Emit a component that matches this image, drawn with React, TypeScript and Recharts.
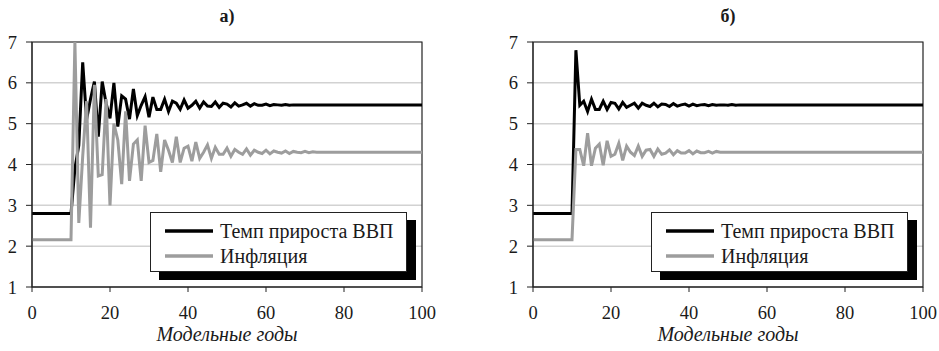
import React from 'react';
import { LineChart, Line, XAxis, YAxis, CartesianGrid, ReferenceArea } from 'recharts';

const years = Array.from({ length: 101 }, (_, i) => i);
const xTicks = [0, 20, 40, 60, 80, 100];
const yTicks = [1, 2, 3, 4, 5, 6, 7];
const seriesNames = ['Темп прироста ВВП', 'Инфляция'];
const panelTitles = ['а)', 'б)'];
const axisTitle = 'Модельные годы';

// panel a
const gdpA = [
  2.8, 2.8, 2.8, 2.8, 2.8, 2.8, 2.8, 2.8, 2.8, 2.8,
  2.8, 3.9, 4.47, 6.5, 5.1, 5.6, 6.03, 4.68, 6.03, 5.5,
  5.13, 6.0, 4.93, 5.68, 5.6, 5.11, 5.85, 5.2, 5.45, 5.66,
  5.16, 5.65, 5.35, 5.35, 5.6, 5.3, 5.55, 5.5, 5.35, 5.58,
  5.38, 5.45, 5.55, 5.38, 5.53, 5.43, 5.42, 5.53, 5.4, 5.5,
  5.48, 5.41, 5.51, 5.43, 5.46, 5.5, 5.43, 5.49, 5.45, 5.45,
  5.48, 5.44, 5.47, 5.46, 5.45, 5.47, 5.45, 5.46, 5.46, 5.46,
  5.46, 5.46, 5.46, 5.46, 5.46, 5.46, 5.46, 5.46, 5.46, 5.46,
  5.46, 5.46, 5.46, 5.46, 5.46, 5.46, 5.46, 5.46, 5.46, 5.46,
  5.46, 5.46, 5.46, 5.46, 5.46, 5.46, 5.46, 5.46, 5.46, 5.46,
  5.46,
];
const infA = [
  2.16, 2.16, 2.16, 2.16, 2.16, 2.16, 2.16, 2.16, 2.16, 2.16,
  2.16, 7.0, 2.57, 4.2, 5.55, 2.45, 5.95, 3.72, 3.75, 5.6,
  3.0, 5.0, 4.6, 3.52, 5.3, 3.6, 4.5, 4.6, 3.6, 4.95,
  4.05, 4.1, 4.75, 3.82, 4.6, 4.35, 4.05, 4.68, 4.05, 4.4,
  4.45, 4.08, 4.55, 4.15, 4.3, 4.48, 4.15, 4.42, 4.25, 4.25,
  4.4, 4.2, 4.37, 4.3, 4.25, 4.38, 4.23, 4.35, 4.3, 4.27,
  4.35, 4.26, 4.33, 4.3, 4.28, 4.33, 4.27, 4.32, 4.3, 4.29,
  4.32, 4.29, 4.31, 4.3, 4.3, 4.3, 4.3, 4.3, 4.3, 4.3,
  4.3, 4.3, 4.3, 4.3, 4.3, 4.3, 4.3, 4.3, 4.3, 4.3,
  4.3, 4.3, 4.3, 4.3, 4.3, 4.3, 4.3, 4.3, 4.3, 4.3,
  4.3,
];

// panel b
const gdpB = [
  2.8, 2.8, 2.8, 2.8, 2.8, 2.8, 2.8, 2.8, 2.8, 2.8,
  2.8, 6.8, 5.45, 5.55, 5.3, 5.6, 5.35, 5.35, 5.55, 5.35,
  5.52, 5.5, 5.36, 5.52, 5.4, 5.45, 5.5, 5.38, 5.5, 5.45,
  5.42, 5.5, 5.41, 5.48, 5.47, 5.42, 5.49, 5.43, 5.46, 5.48,
  5.43, 5.48, 5.44, 5.46, 5.47, 5.44, 5.47, 5.45, 5.46, 5.46,
  5.45, 5.47, 5.45, 5.46, 5.46, 5.46, 5.46, 5.46, 5.46, 5.46,
  5.46, 5.46, 5.46, 5.46, 5.46, 5.46, 5.46, 5.46, 5.46, 5.46,
  5.46, 5.46, 5.46, 5.46, 5.46, 5.46, 5.46, 5.46, 5.46, 5.46,
  5.46, 5.46, 5.46, 5.46, 5.46, 5.46, 5.46, 5.46, 5.46, 5.46,
  5.46, 5.46, 5.46, 5.46, 5.46, 5.46, 5.46, 5.46, 5.46, 5.46,
  5.46,
];
const infB = [
  2.16, 2.16, 2.16, 2.16, 2.16, 2.16, 2.16, 2.16, 2.16, 2.16,
  2.16, 4.37, 4.37, 3.97, 4.77, 3.97, 4.4, 4.5, 3.98, 4.58,
  4.2, 4.25, 4.52, 4.1, 4.45, 4.3, 4.22, 4.45, 4.2, 4.35,
  4.37, 4.2, 4.38, 4.25, 4.28, 4.36, 4.24, 4.34, 4.28, 4.28,
  4.34, 4.26, 4.33, 4.29, 4.29, 4.32, 4.28, 4.32, 4.3, 4.3,
  4.3, 4.3, 4.3, 4.3, 4.3, 4.3, 4.3, 4.3, 4.3, 4.3,
  4.3, 4.3, 4.3, 4.3, 4.3, 4.3, 4.3, 4.3, 4.3, 4.3,
  4.3, 4.3, 4.3, 4.3, 4.3, 4.3, 4.3, 4.3, 4.3, 4.3,
  4.3, 4.3, 4.3, 4.3, 4.3, 4.3, 4.3, 4.3, 4.3, 4.3,
  4.3, 4.3, 4.3, 4.3, 4.3, 4.3, 4.3, 4.3, 4.3, 4.3,
  4.3,
];

const FONT = "'Liberation Serif', 'Times New Roman', Times, Tinos, 'Noto Serif', 'DejaVu Serif', serif";
const INK = '#1a1a1a';
const GDP_COLOR = '#000000';
const INF_COLOR = '#9d9d9d';

const LegendBox: React.FC = () => (
  <div
    style={{
      position: 'absolute',
      left: 150,
      top: 212,
      width: 255,
      height: 58,
      background: '#fff',
      border: '1px solid #222',
      boxShadow: '9px 8px 0 #000',
      fontFamily: FONT,
      fontSize: 20,
      color: INK,
    }}
  >
    {seriesNames.map((name, i) => (
      <div key={name} style={{ position: 'absolute', left: 14, top: 6 + i * 25, height: 24, display: 'flex', alignItems: 'center', whiteSpace: 'nowrap' }}>
        <svg width={48} height={6} style={{ marginRight: 7 }}>
          <line x1={0} y1={3} x2={48} y2={3} stroke={i === 0 ? GDP_COLOR : INF_COLOR} strokeWidth={3.5} />
        </svg>
        <span>{name}</span>
      </div>
    ))}
  </div>
);

interface PanelProps {
  title: string;
  gdp: number[];
  inf: number[];
  left: number;
}

const Panel: React.FC<PanelProps> = ({ title, gdp, inf, left }) => {
  const data = years.map((year, i) => ({ year, gdp: gdp[i], inf: inf[i] }));
  const tick = { fontSize: 18.5, fontFamily: FONT, fill: INK };
  return (
    <div style={{ position: 'absolute', left, top: 0, width: 470, height: 351 }}>
      <div
        style={{
          position: 'absolute',
          left: 32,
          width: 390,
          top: 6,
          textAlign: 'center',
          fontWeight: 'bold',
          fontSize: 18,
          fontFamily: FONT,
          color: INK,
          lineHeight: 'normal',
        }}
      >
        {title}
      </div>
      <LineChart width={470} height={351} data={data} margin={{ top: 42, right: 48, bottom: 34, left: 0 }}>
        <CartesianGrid vertical={false} stroke="#d2d2d2" strokeWidth={1.5} />
        <XAxis
          dataKey="year"
          type="number"
          domain={[0, 100]}
          ticks={xTicks}
          height={30}
          tick={tick}
          tickSize={5}
          tickMargin={14}
          stroke="#222"
          tickLine={{ stroke: '#222' }}
        />
        <YAxis
          type="number"
          domain={[1, 7]}
          ticks={yTicks}
          width={32}
          tick={tick}
          tickSize={6}
          tickMargin={9}
          stroke="#222"
          allowDataOverflow
        />
        <ReferenceArea x1={0} x2={100} y1={1} y2={7} fill="none" stroke="#222" strokeWidth={1.2} ifOverflow="extendDomain" />
        <Line type="linear" dataKey="gdp" stroke={GDP_COLOR} strokeWidth={3} dot={false} isAnimationActive={false} />
        <Line type="linear" dataKey="inf" stroke={INF_COLOR} strokeWidth={3} dot={false} isAnimationActive={false} />
      </LineChart>
      <div
        style={{
          position: 'absolute',
          left: 32,
          width: 390,
          top: 323,
          textAlign: 'center',
          fontStyle: 'italic',
          fontSize: 20,
          fontFamily: FONT,
          color: INK,
          lineHeight: 'normal',
        }}
      >
        {axisTitle}
      </div>
      <LegendBox />
    </div>
  );
};

export default function App() {
  return (
    <div style={{ position: 'absolute', left: 0, top: 0, width: 939, height: 351, background: '#fff', overflow: 'hidden' }}>
      <Panel title={panelTitles[0]} gdp={gdpA} inf={infA} left={0} />
      <Panel title={panelTitles[1]} gdp={gdpB} inf={infB} left={501} />
    </div>
  );
}
